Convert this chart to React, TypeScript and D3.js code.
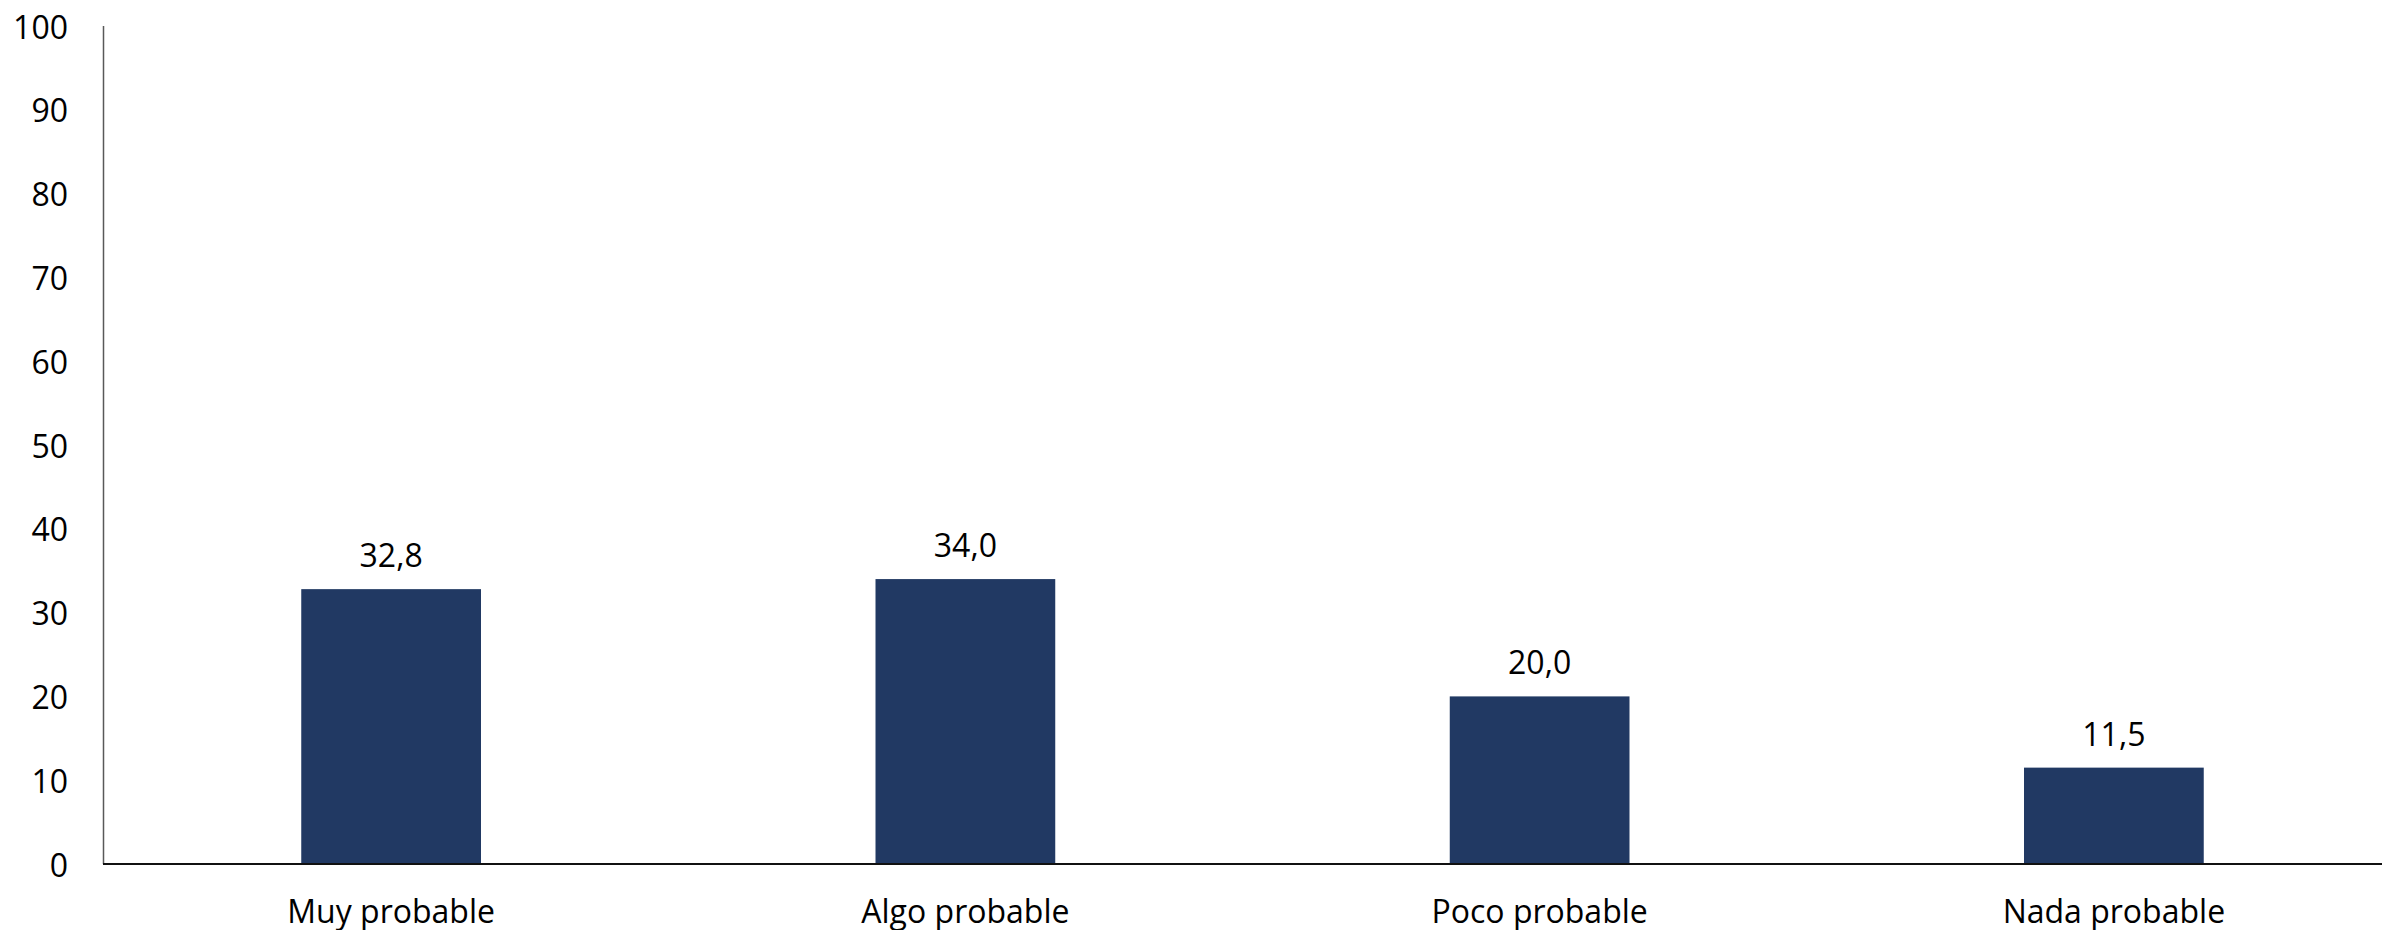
import React from "react";
import * as d3 from "d3";

const categories = ["Muy probable", "Algo probable", "Poco probable", "Nada probable"];
const values = [32.8, 34.0, 20.0, 11.5];
const yTicks = [0, 10, 20, 30, 40, 50, 60, 70, 80, 90, 100];

const W = 2382;
const H = 930;
const FONT = "'Open Sans', sans-serif";
const FS = 32;

export default function App() {
  const y = d3.scaleLinear().domain([0, 100]).range([864, 26]);
  const x = d3
    .scaleBand<string>()
    .domain(categories)
    .range([104, 2401])
    .paddingInner(0.687)
    .paddingOuter(0.3435);
  const fmt = (v: number) => v.toFixed(1).replace(".", ",");

  return (
    <svg
      width={W}
      height={H}
      style={{ position: "absolute", left: 0, top: 0, background: "#fff" }}
      fontFamily={FONT}
    >
      {yTicks.map((t) => (
        <text
          key={t}
          x={68}
          y={y(t)}
          textAnchor="end"
          dominantBaseline="central"
          fontSize={FS}
          fill="#000"
        >
          {t}
        </text>
      ))}
      {categories.map((c, i) => (
        <g key={c}>
          <rect
            x={x(c)}
            y={y(values[i])}
            width={x.bandwidth()}
            height={y(0) - y(values[i])}
            fill="#213963"
          />
          <text
            x={(x(c) as number) + x.bandwidth() / 2}
            y={y(values[i]) - 22}
            textAnchor="middle"
            fontSize={FS}
            fill="#000"
          >
            {fmt(values[i])}
          </text>
          <text
            x={(x(c) as number) + x.bandwidth() / 2}
            y={923}
            textAnchor="middle"
            fontSize={FS}
            fill="#000"
          >
            {c}
          </text>
        </g>
      ))}
      <line x1={103.5} x2={103.5} y1={26} y2={864} stroke="#595959" strokeWidth={1.5} />
      <line x1={103} x2={W} y1={864} y2={864} stroke="#111" strokeWidth={2} />
    </svg>
  );
}
